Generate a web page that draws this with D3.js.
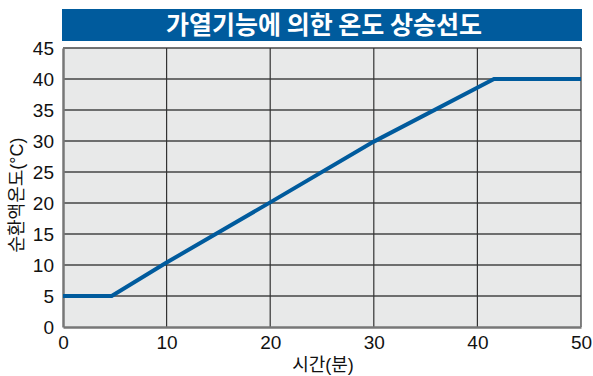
<!DOCTYPE html>
<html>
<head>
<meta charset="utf-8">
<script src="https://cdn.jsdelivr.net/npm/d3@7"></script>
<style>
  body { margin: 0; background: #fff; }
  text { font-family: "Liberation Sans", Arial, "Noto Sans CJK KR", sans-serif; }
</style>
</head>
<body>
<div id="chart"></div>
<script>
const titleText = '가열기능에 의한 온도 상승선도'
const xLabel = '시간(분)'
const yLabel = '순환액온도(°C)'
const timeMin = [0, 4.7, 10, 20, 30, 41.6, 50]
const tempC = [5, 5, 10.4, 20.1, 29.9, 40, 40]
const xTicks = [0, 10, 20, 30, 40, 50]
const yTicks = [0, 5, 10, 15, 20, 25, 30, 35, 40, 45]

const svg = d3.select('#chart').append('svg')
  .attr('width', 593)
  .attr('height', 376)

const margin = {top: 48, right: 12, bottom: 49, left: 63},
    width = 593 - margin.left - margin.right,
    height = 376 - margin.top - margin.bottom

const x = d3.scaleLinear().domain([0, 50]).range([0, width]),
    y = d3.scaleLinear().domain([0, 45]).range([height, 0])

// title bar
svg.append('rect')
  .attr('x', margin.left - 1).attr('y', 9)
  .attr('width', width + 2).attr('height', 32)
  .attr('fill', '#005b9d')
svg.append('text')
  .attr('x', margin.left + width / 2 + 2).attr('y', 34)
  .attr('text-anchor', 'middle')
  .attr('fill', '#fff')
  .style('font-size', '25px')
  .style('font-weight', 'bold')
  .style('font-family', '"Noto Sans CJK KR", sans-serif')
  .text(titleText)

const g = svg.append('g')
  .attr('transform', 'translate(' + margin.left + ',' + margin.top + ')')

g.append('rect')
  .attr('width', width).attr('height', height)
  .attr('fill', '#e8e9e9')

// grid
g.selectAll('.hgrid').data(yTicks.slice(1))
  .enter().append('line')
  .attr('x1', 0).attr('x2', width)
  .attr('y1', d => y(d)).attr('y2', d => y(d))
  .attr('stroke', '#444').attr('stroke-width', 1.3)
g.selectAll('.vgrid').data(xTicks.slice(1))
  .enter().append('line')
  .attr('y1', 0).attr('y2', height)
  .attr('x1', d => x(d)).attr('x2', d => x(d))
  .attr('stroke', '#333').attr('stroke-width', 1.2)

// axes
const xAxis = d3.axisBottom(x).tickValues(xTicks).tickSize(0).tickPadding(9)
const yAxis = d3.axisLeft(y).tickValues(yTicks).tickSize(0).tickPadding(9)

g.append('g')
  .attr('transform', 'translate(0,' + height + ')')
  .call(xAxis)
  .call(s => s.select('.domain').attr('stroke', '#777').attr('stroke-width', 2.5))
  .call(s => s.selectAll('text').style('font-size', '19px').attr('fill', '#111'))

g.append('g')
  .call(yAxis)
  .call(s => s.select('.domain').attr('stroke', '#777').attr('stroke-width', 2.5))
  .call(s => s.selectAll('text').style('font-size', '19px').attr('fill', '#111').attr('dy', '0.35em'))

// line
const line = d3.line()
  .x((d, i) => x(timeMin[i]))
  .y(d => y(d))

g.append('path')
  .datum(tempC)
  .attr('d', line)
  .attr('fill', 'none')
  .attr('stroke', '#005b9d')
  .attr('stroke-width', 4)
  .attr('stroke-linejoin', 'miter')

svg.append('text')
  .attr('x', margin.left + width / 2 + 1).attr('y', 371)
  .attr('text-anchor', 'middle')
  .style('font-size', '18px')
  .attr('fill', '#111')
  .text(xLabel)

svg.append('text')
  .attr('transform', 'translate(23,' + (margin.top + 147) + ') rotate(-90)')
  .attr('text-anchor', 'middle')
  .style('font-size', '18px')
  .attr('fill', '#111')
  .text(yLabel)
</script>
</body>
</html>
